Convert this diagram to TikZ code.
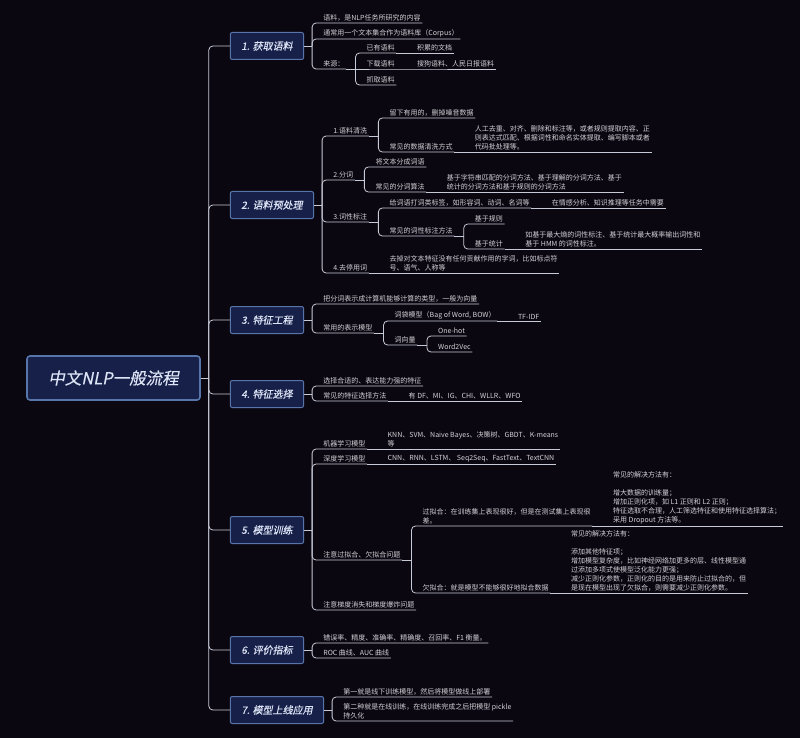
\documentclass[tikz,border=0pt]{standalone}
\usepackage{fontspec}
\setmainfont{Noto Sans CJK SC}
\newfontfamily\slantfont[FakeSlant=0.2,FakeBold=0.4]{Noto Sans CJK SC}
\definecolor{bgc}{HTML}{0B0711}
\definecolor{linec}{HTML}{C6C9D6}
\definecolor{textc}{HTML}{D2D2D6}
\definecolor{boxfill}{HTML}{172049}
\definecolor{boxline}{HTML}{5875A9}
\definecolor{boxtext}{HTML}{DDE4F6}
\tikzset{
  link/.style={draw=linec, line width=0.8pt, rounded corners=4pt},
  topic/.style={anchor=south west, xshift=9.5pt, inner xsep=1.5pt, inner ysep=1.8pt,
    text=textc, align=left, font=\fontsize{7pt}{9pt}\selectfont},
  stepbox/.style={anchor=west, xshift=21pt, rectangle, rounded corners=2pt,
    fill=boxfill, draw=boxline, line width=1pt, inner xsep=11pt, inner ysep=0pt,
    minimum height=27pt, text=boxtext, font=\slantfont\fontsize{10pt}{12pt}\selectfont},
  rootbox/.style={rectangle, rounded corners=3pt, fill=boxfill, draw=boxline,
    line width=1.6pt, minimum width=173pt, minimum height=44pt, text=boxtext,
    font=\slantfont\fontsize{16.5pt}{18pt}\selectfont}
}
\begin{document}
\begin{tikzpicture}[x=1pt,y=-1pt]
\fill[bgc] (0,0) rectangle (800,738);
% root and the seven steps
\node[rootbox] (root) at (113.5,378) {中文NLP一般流程};
\coordinate (jr) at ([xshift=8pt]root.east);
\node[stepbox] (s1) at (jr |- 0,46) {1. 获取语料};
\node[stepbox] (s2) at (jr |- 0,205) {2. 语料预处理};
\node[stepbox] (s3) at (jr |- 0,320) {3. 特征工程};
\node[stepbox] (s4) at (jr |- 0,394) {4. 特征选择};
\node[stepbox] (s5) at (jr |- 0,530) {5. 模型训练};
\node[stepbox] (s6) at (jr |- 0,650) {6. 评价指标};
\node[stepbox] (s7) at (jr |- 0,710) {7. 模型上线应用};
\draw[link] (root.east) -- (jr);
\foreach \i in {1,...,7}
  \draw[link] (jr) |- (s\i.west);
% 1. 获取语料
\coordinate (j1) at ([xshift=8pt]s1.east);
\node[topic] (s1a) at (j1 |- 0,23) {语料，是NLP任务所研究的内容};
\node[topic] (s1b) at (j1 |- 0,39) {通常用一个文本集合作为语料库（Corpus）};
\node[topic] (s1c) at (j1 |- 0,69) {来源：};
\coordinate (j1c) at ([xshift=9.5pt]s1c.south east);
\node[topic] (s1c1) at (j1c |- 0,53) {已有语料};
\node[topic] (s1c2) at (j1c |- 0,69) {下载语料};
\node[topic] (s1c3) at (j1c |- 0,85) {抓取语料};
\node[topic] (s1c1a) at ([xshift=9.5pt]s1c1.south east) {积累的文档};
\node[topic] (s1c2a) at ([xshift=9.5pt]s1c2.south east) {搜狗语料、人民日报语料};
\draw[link] (s1.east) -- (j1);
\foreach \c in {a,b,c}
  \draw[link] (j1) |- (s1\c.south east);
\draw[link] (s1c.south east) -- (s1c2.south east) -- (s1c2a.south east);
\foreach \c in {1,3}
  \draw[link] (j1c) |- (s1c\c.south east);
\draw[link] (s1c1.south east) -- (s1c1a.south east);
% 2. 语料预处理
\coordinate (j2) at ([xshift=8pt]s2.east);
\node[topic] (s2a) at (j2 |- 0,136) {1.语料清洗};
\node[topic] (s2b) at (j2 |- 0,180) {2.分词};
\node[topic] (s2c) at (j2 |- 0,222) {3.词性标注};
\node[topic] (s2d) at (j2 |- 0,273) {4.去停用词};
\node[topic] (s2d1) at ([xshift=9.5pt]s2d.south east) {去掉对文本特征没有任何贡献作用的字词，比如标点符\\号、语气、人称等};
\coordinate (j2a) at ([xshift=9.5pt]s2a.south east);
\node[topic] (s2a1) at (j2a |- 0,118) {留下有用的，删掉噪音数据};
\node[topic] (s2a2) at (j2a |- 0,152) {常见的数据清洗方式};
\node[topic] (s2a2a) at ([xshift=9.5pt]s2a2.south east) {人工去重、对齐、删除和标注等，或者规则提取内容、正\\则表达式匹配、根据词性和命名实体提取、编写脚本或者\\代码批处理等。};
\coordinate (j2b) at ([xshift=9.5pt]s2b.south east);
\node[topic] (s2b1) at (j2b |- 0,167) {将文本分成词语};
\node[topic] (s2b2) at (j2b |- 0,192) {常见的分词算法};
\node[topic] (s2b2a) at ([xshift=9.5pt]s2b2.south east) {基于字符串匹配的分词方法、基于理解的分词方法、基于\\统计的分词方法和基于规则的分词方法};
\coordinate (j2c) at ([xshift=9.5pt]s2c.south east);
\node[topic] (s2c1) at (j2c |- 0,208) {给词语打词类标签，如形容词、动词、名词等};
\node[topic] (s2c1a) at ([xshift=9.5pt]s2c1.south east) {在情感分析、知识推理等任务中需要};
\node[topic] (s2c2) at (j2c |- 0,236) {常见的词性标注方法};
\coordinate (j2cb) at ([xshift=9.5pt]s2c2.south east);
\node[topic] (s2c2a) at (j2cb |- 0,224) {基于规则};
\node[topic] (s2c2b) at (j2cb |- 0,249) {基于统计};
\node[topic] (s2c2b1) at ([xshift=9.5pt]s2c2b.south east) {如基于最大熵的词性标注、基于统计最大概率输出词性和\\基于 HMM 的词性标注。};
\draw[link] (s2.east) -- (j2);
\foreach \c in {a,b,c,d}
  \draw[link] (j2) |- (s2\c.south east);
\draw[link] (s2d.south east) -- (s2d1.south east);
\draw[link] (s2a.south east) -- (j2a);
\foreach \c in {1,2}
  \draw[link] (j2a) |- (s2a\c.south east);
\draw[link] (s2a2.south east) -- (s2a2a.south east);
\draw[link] (s2b.south east) -- (j2b);
\foreach \c in {1,2}
  \draw[link] (j2b) |- (s2b\c.south east);
\draw[link] (s2b2.south east) -- (s2b2a.south east);
\draw[link] (s2c.south east) -- (j2c);
\foreach \c in {1,2}
  \draw[link] (j2c) |- (s2c\c.south east);
\draw[link] (s2c1.south east) -- (s2c1a.south east);
\draw[link] (s2c2.south east) -- (j2cb);
\foreach \c in {a,b}
  \draw[link] (j2cb) |- (s2c2\c.south east);
\draw[link] (s2c2b.south east) -- (s2c2b1.south east);
% 3. 特征工程
\coordinate (j3) at ([xshift=8pt]s3.east);
\node[topic] (s3a) at (j3 |- 0,304) {把分词表示成计算机能够计算的类型，一般为向量};
\node[topic] (s3b) at (j3 |- 0,333) {常用的表示模型};
\coordinate (j3b) at ([xshift=9.5pt]s3b.south east);
\node[topic] (s3b1) at (j3b |- 0,321) {词袋模型（Bag of Word, BOW）};
\node[topic] (s3b1a) at ([xshift=9.5pt]s3b1.south east) {TF-IDF};
\node[topic] (s3b2) at (j3b |- 0,345) {词向量};
\coordinate (j3bb) at ([xshift=9.5pt]s3b2.south east);
\node[topic] (s3b2a) at (j3bb |- 0,336) {One-hot};
\node[topic] (s3b2b) at (j3bb |- 0,352) {Word2Vec};
\draw[link] (s3.east) -- (j3);
\foreach \c in {a,b}
  \draw[link] (j3) |- (s3\c.south east);
\draw[link] (s3b.south east) -- (j3b);
\foreach \c in {1,2}
  \draw[link] (j3b) |- (s3b\c.south east);
\draw[link] (s3b1.south east) -- (s3b1a.south east);
\draw[link] (s3b2.south east) -- (j3bb);
\foreach \c in {a,b}
  \draw[link] (j3bb) |- (s3b2\c.south east);
% 4. 特征选择
\coordinate (j4) at ([xshift=8pt]s4.east);
\node[topic] (s4a) at (j4 |- 0,386) {选择合适的、表达能力强的特征};
\node[topic] (s4b) at (j4 |- 0,401) {常见的特征选择方法};
\node[topic] (s4b1) at ([xshift=9.5pt]s4b.south east) {有 DF、MI、IG、CHI、WLLR、WFO};
\draw[link] (s4.east) -- (j4);
\foreach \c in {a,b}
  \draw[link] (j4) |- (s4\c.south east);
\draw[link] (s4b.south east) -- (s4b1.south east);
% 5. 模型训练
\coordinate (j5) at ([xshift=8pt]s5.east);
\node[topic] (s5a) at (j5 |- 0,449) {机器学习模型};
\node[topic] (s5a1) at ([xshift=9.5pt]s5a.south east) {KNN、SVM、Naive Bayes、决策树、GBDT、K-means\\等};
\node[topic] (s5b) at (j5 |- 0,464) {深度学习模型};
\node[topic] (s5b1) at ([xshift=9.5pt]s5b.south east) {CNN、RNN、LSTM、 Seq2Seq、FastText、TextCNN};
\node[topic] (s5c) at (j5 |- 0,560) {注意过拟合、欠拟合问题};
\coordinate (j5c) at ([xshift=9.5pt]s5c.south east);
\node[topic] (s5c1) at (j5c |- 0,526) {过拟合：在训练集上表现很好，但是在测试集上表现很\\差。};
\node[topic] (s5c1a) at ([xshift=9.5pt]s5c1.south east) {常见的解决方法有：\\[9pt]增大数据的训练量；\\增加正则化项，如 L1 正则和 L2 正则；\\特征选取不合理，人工筛选特征和使用特征选择算法；\\采用 Dropout 方法等。};
\node[topic] (s5c2) at (j5c |- 0,593) {欠拟合：就是模型不能够很好地拟合数据};
\node[topic] (s5c2a) at ([xshift=9.5pt]s5c2.south east) {常见的解决方法有：\\[9pt]添加其他特征项；\\增加模型复杂度，比如神经网络加更多的层、线性模型通\\过添加多项式使模型泛化能力更强；\\减少正则化参数，正则化的目的是用来防止过拟合的，但\\是现在模型出现了欠拟合，则需要减少正则化参数。};
\node[topic] (s5d) at (j5 |- 0,610) {注意梯度消失和梯度爆炸问题};
\draw[link] (s5.east) -- (j5);
\foreach \c in {a,b,c,d}
  \draw[link] (j5) |- (s5\c.south east);
\draw[link] (s5a.south east) -- (s5a1.south east);
\draw[link] (s5b.south east) -- (s5b1.south east);
\draw[link] (s5c.south east) -- (j5c);
\foreach \c in {1,2}
  \draw[link] (j5c) |- (s5c\c.south east);
\draw[link] (s5c1.south east) -- (s5c1a.south east);
\draw[link] (s5c2.south east) -- (s5c2a.south east);
% 6. 评价指标
\coordinate (j6) at ([xshift=8pt]s6.east);
\node[topic] (s6a) at (j6 |- 0,643) {错误率、精度、准确率、精确度、召回率、F1 衡量。};
\node[topic] (s6b) at (j6 |- 0,658) {ROC 曲线、AUC 曲线};
\draw[link] (s6.east) -- (j6);
\foreach \c in {a,b}
  \draw[link] (j6) |- (s6\c.south east);
% 7. 模型上线应用
\coordinate (j7) at ([xshift=8pt]s7.east);
\node[topic] (s7a) at (j7 |- 0,697) {第一就是线下训练模型，然后将模型做线上部署};
\node[topic] (s7b) at (j7 |- 0,721) {第二种就是在线训练，在线训练完成之后把模型 pickle\\持久化};
\draw[link] (s7.east) -- (j7);
\foreach \c in {a,b}
  \draw[link] (j7) |- (s7\c.south east);
\end{tikzpicture}
\end{document}
